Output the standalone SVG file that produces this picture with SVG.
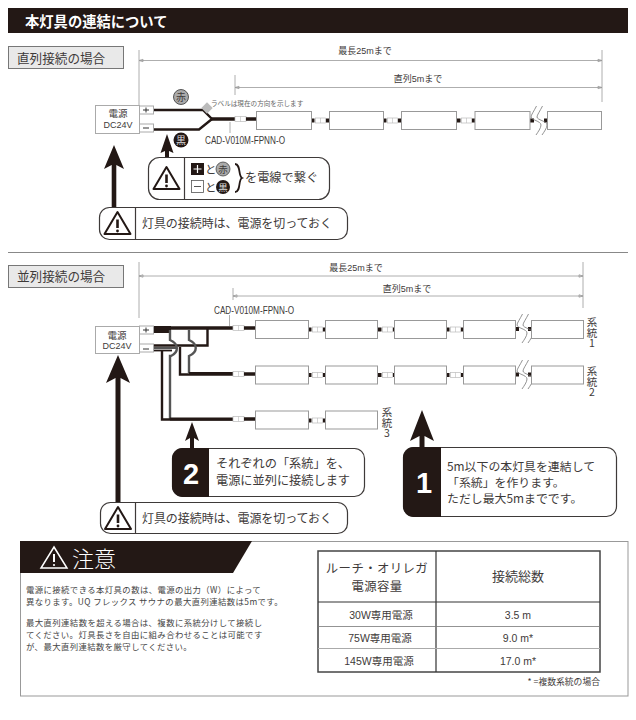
<svg xmlns="http://www.w3.org/2000/svg" xmlns:xlink="http://www.w3.org/1999/xlink" width="636" height="720" viewBox="0 0 636 720">
<style>
text{font-family:"Noto Sans CJK JP","Liberation Sans",sans-serif;fill:#3e3a39}
.lat{font-family:"Liberation Sans","Noto Sans CJK JP",sans-serif}
.dark{fill:#231815}
.tab{fill:#e9e9e9;stroke:#777;stroke-width:1}
.tabt{font-size:12.6px}
.dim{fill:none;stroke:#999;stroke-width:.8}
.dimt{font-size:9px;text-anchor:middle}
.lamp{fill:#fff;stroke:#999;stroke-width:1}
.psu{fill:#fff;stroke:#aaa;stroke-width:1}
.w3{fill:none;stroke:#231815;stroke-width:3.500}
.w2{fill:none;stroke:#231815;stroke-width:2.400}
.g2{fill:none;stroke:#555;stroke-width:2.400}
.box{fill:#fff;stroke:#3e3a39;stroke-width:1.200}
.div{stroke:#3e3a39;stroke-width:1.200}
.bt{font-size:12px}
.cn{fill:#fff;stroke:#bbb;stroke-width:.7}
.brk{fill:none;stroke:#777;stroke-width:.8}
.small{font-size:8.400px;letter-spacing:.4px;fill:#444}
.tc{font-size:10.500px;text-anchor:middle}
.sys{font-size:10.500px;writing-mode:vertical-rl;text-orientation:upright}
</style>
<defs>
<g id="warn"><path d="M0,-12 L13,10 H-13 Z" fill="none" stroke="#231815" stroke-width="2" stroke-linejoin="round"/><path d="M0,-4.500 V4" stroke="#231815" stroke-width="2.600"/><circle cx="0" cy="7" r="1.400" fill="#231815"/></g>
<g id="conn"><rect x="0" y="-2" width="3.500" height="4" class="dark"/><rect x="4.500" y="-2.500" width="10" height="5" class="cn"/><path d="M9.500,-2.500V2.500" stroke="#bbb" stroke-width=".6"/><rect x="15" y="-2" width="3" height="4" class="dark"/></g>
<path id="brk" d="M536.500,106C534,111 531,115 531,117C531,120 541,121 541,125C541,128 538,132 536,135" class="brk"/>
<g id="brkp"><use xlink:href="#brk"/><use xlink:href="#brk" x="6"/></g>
</defs>
<rect width="636" height="720" fill="#fff"/>

<g id="title"><rect x="8" y="8" width="620" height="25" class="dark"/><text x="25" y="27" font-size="14.300" font-weight="700" style="fill:#fff">本灯具の連結について</text></g>

<g id="tab-series"><rect x="8.500" y="46.500" width="115" height="22" class="tab"/><text x="17" y="62.500" class="tabt">直列接続の場合</text></g>

<g id="dims-series">
<path class="dim" d="M139,50V108M139,60.500H602M602,50V102M235,75V95M235,87.500H602M139,60.500l4,-1.200v2.400zM235,87.500l4,-1.200v2.400zM602,60.500l-4,-1.200v2.400zM602,87.500l-4,-1.200v2.400z"/>
<text x="365" y="54" class="dimt lat">最長25mまで</text>
<text x="418" y="82" class="dimt lat">直列5mまで</text>
<text x="211" y="106" font-size="6.600" style="fill:#666">ラベルは現在の方向を示します</text>
<path d="M230,122V133" stroke="#999" stroke-width=".8"/>
<text x="205" y="144" font-size="10" textLength="80" lengthAdjust="spacingAndGlyphs" class="lat">CAD-V010M-FPNN-O</text>
</g>

<g id="connectors">
<g id="wires-series">
<path class="w2" d="M153,110H203L212,119M153,129.500H199L212,119"/>
<path d="M211,119H235" stroke="#231815" stroke-width="3.500"/>
<rect x="203" y="104" width="8" height="8" fill="#bbb" transform="rotate(45 207 108)"/>
<rect x="235" y="116.500" width="11" height="5" class="cn"/><path d="M240.500,116.500V121.500" stroke="#bbb" stroke-width=".6"/>
<path d="M246,119H256" stroke="#231815" stroke-width="3.500"/>
<use xlink:href="#conn" x="311" y="120.500"/><use xlink:href="#conn" x="383" y="120.500"/><use xlink:href="#conn" x="457" y="120.500"/>
<rect x="530" y="118.500" width="4" height="4" class="dark"/><rect x="544" y="118.500" width="3" height="4" class="dark"/>
<use xlink:href="#brkp"/>
</g>
<g id="wires-parallel">
<path d="M153,329.500H171" stroke="#231815" stroke-width="7"/>
<path class="w3" d="M153,328H233"/>
<path class="w2" d="M207.500,329V345.500H153"/>
<path d="M153,348H176" stroke="#555" stroke-width="2"/>
<path d="M153,350.500H172" stroke="#231815" stroke-width="1.800"/>
<path class="g2" d="M170,330V340C179,344 179,352 171,356H170V419"/>
<path class="g2" d="M189,330V340C198,344 198,352 189,356V373"/>
<path class="w2" d="M162,351V419.500H233"/>
<path class="w2" d="M180,347V374.500H233"/>
<path d="M170,419H233" stroke="#231815" stroke-width="3"/><path d="M189,373.500H233" stroke="#231815" stroke-width="3"/>
<path d="M229.500,315V326" stroke="#999" stroke-width=".8"/>
<g id="p-cn"><rect x="233" y="325.500" width="11" height="5" class="cn"/><rect x="233" y="371.500" width="11" height="5" class="cn"/><rect x="233" y="416.500" width="11" height="5" class="cn"/><path d="M238.500,325.500v5M238.500,371.500v5M238.500,416.500v5" stroke="#bbb" stroke-width=".6"/></g>
<path d="M244,328H255M244,374H255M244,419H256" stroke="#231815" stroke-width="3.500"/>
<use xlink:href="#conn" x="308" y="329.500"/><use xlink:href="#conn" x="378" y="329.500"/><use xlink:href="#conn" x="446" y="329.500"/>
<use xlink:href="#conn" x="308" y="375"/><use xlink:href="#conn" x="378" y="375"/><use xlink:href="#conn" x="446" y="375"/>
<use xlink:href="#conn" x="308" y="420.500"/>
<rect x="515" y="327" width="4" height="4" class="dark"/><rect x="528" y="327" width="3" height="4" class="dark"/>
<rect x="515" y="372.500" width="4" height="4" class="dark"/><rect x="528" y="372.500" width="3" height="4" class="dark"/>
<use xlink:href="#brkp" x="-14" y="208"/><use xlink:href="#brkp" x="-14" y="254"/>
</g>
<g id="arrows" class="dark">
<path d="M167,134L173.500,153L169,151V158H165V151L160.500,153Z"/>
<path d="M114,145L124,169L116.300,165V208H111.700V165L104,169Z"/>
<path d="M118,355L130,383L120.500,378V503H115.500V378L106,383Z"/>
<path d="M192,422L199,441L194,438V449H190V438L185,441Z"/>
<path d="M422,410L434,441L424.500,436V448H419.500V436L410,441Z"/>
</g>
</g>

<g id="psu-series"><rect x="95.500" y="105.500" width="44" height="28" class="psu"/><rect x="139.500" y="106" width="14" height="8" class="psu"/><rect x="139.500" y="124" width="14" height="8" class="psu"/>
<text x="118" y="117" font-size="9.500" text-anchor="middle">電源</text><text x="118" y="127.500" font-size="9" text-anchor="middle" class="lat">DC24V</text>
<path d="M143,110H149M146,107.500V112.500M143,128H149" stroke="#333" stroke-width="1"/></g>
<g id="lamps-series"><rect x="256.500" y="111.500" width="55" height="18" class="lamp"/><rect x="329.500" y="111.500" width="54" height="18" class="lamp"/><rect x="401.500" y="111.500" width="55" height="18" class="lamp"/><rect x="475" y="111.500" width="55" height="18" class="lamp"/><rect x="547.500" y="111.500" width="54" height="18" class="lamp"/></g>
<g id="red-mark"><circle cx="181" cy="97" r="7.500" fill="#aaa" stroke="#333" stroke-width=".8"/><text x="181" y="100.500" font-size="10" text-anchor="middle">赤</text></g>
<g id="black-mark"><circle cx="181" cy="140" r="7.500" class="dark"/><text x="181" y="143.500" font-size="10" text-anchor="middle" style="fill:#ddd">黒</text></g>

<g id="warn-wire"><rect x="148.500" y="157.500" width="181" height="42" rx="11" class="box"/><path class="div" d="M184.500,157.500V199.500"/><use xlink:href="#warn" x="166.500" y="179"/>
<rect x="191" y="163" width="13" height="12" class="dark"/><path d="M193.500,169H201.500M197.500,165V173" stroke="#fff" stroke-width="1.200"/>
<rect x="191.500" y="180.500" width="12" height="12" fill="#fff" stroke="#555" stroke-width=".8"/><path d="M194,186.500H201" stroke="#555" stroke-width="1"/>
<text x="205" y="174" font-size="11.500">と</text><text x="205" y="192" font-size="11.500">と</text>
<circle cx="223" cy="169" r="7" fill="#aaa" stroke="#333" stroke-width=".7"/><text x="223" y="172.500" font-size="9.500" text-anchor="middle">赤</text>
<circle cx="223" cy="187" r="7" class="dark"/><text x="223" y="190.500" font-size="9.500" text-anchor="middle" style="fill:#ddd">黒</text>
<path d="M235,164C241,164 238,176 242,178C238,180 241,192 235,192" fill="none" stroke="#231815" stroke-width="1.800"/>
<text x="245" y="182" font-size="12.200">を電線で繋ぐ</text></g>

<g id="warn-power-1"><rect x="99.500" y="207.500" width="248" height="32" rx="10" class="box"/><path class="div" d="M135.500,207.500V239.500"/><use xlink:href="#warn" x="117.500" y="224"/><text x="142" y="228" class="bt" textLength="190" lengthAdjust="spacing">灯具の接続時は、電源を切っておく</text></g>

<path id="sep" d="M8,252.500H628" stroke="#888" stroke-width="1"/>

<g id="tab-parallel"><rect x="8.500" y="265.500" width="115" height="22" class="tab"/><text x="17" y="281" class="tabt">並列接続の場合</text></g>

<g id="dims-parallel">
<path class="dim" d="M139,262V318M139,276H583M583,262V308M233,288V300M233,296H583M139,276l4,-1.200v2.400zM233,296l4,-1.200v2.400zM583,276l-4,-1.200v2.400zM583,296l-4,-1.200v2.400z"/>
<text x="356" y="271" class="dimt lat">最長25mまで</text>
<text x="407" y="292" class="dimt lat">直列5mまで</text>
<text x="214" y="314" font-size="10" textLength="80" lengthAdjust="spacingAndGlyphs" class="lat">CAD-V010M-FPNN-O</text>
</g>

<g id="psu-parallel"><rect x="95.500" y="326.500" width="44" height="27" class="psu"/><rect x="139.500" y="326" width="14" height="8" class="psu"/><rect x="139.500" y="344" width="14" height="8" class="psu"/>
<text x="117" y="338.500" font-size="9.500" text-anchor="middle">電源</text><text x="117" y="348.500" font-size="9" text-anchor="middle" class="lat">DC24V</text>
<path d="M143,330H149M146,327.500V332.500M143,349H149" stroke="#333" stroke-width="1"/></g>

<g id="lamps-sys1"><rect x="255.500" y="320.500" width="53" height="18" class="lamp"/><rect x="325.500" y="320.500" width="52" height="18" class="lamp"/><rect x="394.500" y="320.500" width="52" height="18" class="lamp"/><rect x="463.500" y="320.500" width="52" height="18" class="lamp"/><rect x="531.500" y="320.500" width="52" height="18" class="lamp"/>
<text class="sys" x="592" y="317">系統1</text></g>
<g id="lamps-sys2"><rect x="255.500" y="366" width="53" height="18" class="lamp"/><rect x="325.500" y="366" width="52" height="18" class="lamp"/><rect x="394.500" y="366" width="52" height="18" class="lamp"/><rect x="463.500" y="366" width="52" height="18" class="lamp"/><rect x="531.500" y="366" width="52" height="18" class="lamp"/>
<text class="sys" x="592" y="366">系統2</text></g>
<g id="lamps-sys3"><rect x="255.500" y="411" width="53" height="18" class="lamp"/><rect x="325.500" y="411" width="52" height="18" class="lamp"/>
<text class="sys" x="387" y="407">系統3</text></g>

<g id="step2"><rect x="172.500" y="448.500" width="192" height="48" rx="10" class="box"/><path class="dark" d="M209,448H183A11,11 0 0 0 172,459V486A11,11 0 0 0 183,497H209Z"/><text x="191" y="484" font-size="29" font-weight="700" text-anchor="middle" class="lat" style="fill:#fff">2</text>
<text x="216" y="468" font-size="12.200">それぞれの「系統」を、</text><text x="216" y="485" font-size="12.200">電源に並列に接続します</text></g>

<g id="step1"><rect x="403.500" y="447.500" width="213" height="69" rx="10" class="box"/><path class="dark" d="M441,447H414A11,11 0 0 0 403,458V506A11,11 0 0 0 414,517H441Z"/><text x="424" y="493" font-size="29" font-weight="700" text-anchor="middle" class="lat" style="fill:#fff">1</text>
<text x="447" y="471" font-size="11.900">5m以下の本灯具を連結して</text><text x="447" y="487" font-size="11.900">「系統」を作ります。</text><text x="447" y="503" font-size="11.900">ただし最大5mまでです。</text></g>

<g id="warn-power-2"><rect x="100.500" y="502.500" width="247" height="31" rx="10" class="box"/><path class="div" d="M135.500,502.500V533.500"/><use xlink:href="#warn" x="118" y="519"/><text x="142" y="523" class="bt" textLength="190" lengthAdjust="spacing">灯具の接続時は、電源を切っておく</text></g>

<g id="notice">
<rect x="20.500" y="541.500" width="607.500" height="154.500" fill="none" stroke="#999" stroke-width="1"/>
<path class="dark" d="M20,541H252L233,573H20Z"/>
<path d="M54,547L67,568H41Z" fill="none" stroke="#fff" stroke-width="1.500"/><path d="M54,554V562" stroke="#fff" stroke-width="2"/><circle cx="54" cy="565" r="1.100" fill="#fff"/>
<text x="72" y="567" font-size="22" style="fill:#fff" font-weight="300">注意</text>
<text class="small"><tspan x="26" y="593">電源に接続できる本灯具の数は、電源の出力（W）によって</tspan><tspan x="26" y="605.300">異なります。UQ フレックス サウナの最大直列連結数は5mです。</tspan></text>
<text class="small"><tspan x="26" y="625.500">最大直列連結数を超える場合は、複数に系統分けして接続し</tspan><tspan x="26" y="637.800">てください。灯具長さを自由に組み合わせることは可能です</tspan><tspan x="26" y="650">が、最大直列連結数を厳守してください。</tspan></text>
</g>

<g id="table">
<rect x="318" y="551" width="282" height="121" fill="#fff" stroke="#444" stroke-width="1.500"/>
<path d="M436,551V672M318,602H600" stroke="#333" stroke-width="1.200"/>
<path d="M318,626.500H600" stroke="#777" stroke-width=".8"/><path d="M318,648.500H600" stroke="#aaa" stroke-width="1"/>
<text font-size="12.400" text-anchor="middle"><tspan x="377" y="572.500" letter-spacing=".4">ルーチ・オリレガ</tspan><tspan x="377" y="590.500" letter-spacing=".4">電源容量</tspan></text>
<text x="518" y="581" font-size="13" text-anchor="middle">接続総数</text>
<text class="tc lat" x="381" y="619">30W専用電源</text><text class="tc lat" x="518" y="619">3.5 m</text>
<text class="tc lat" x="380" y="642">75W専用電源</text><text class="tc lat" x="518" y="642">9.0 m*</text>
<text class="tc lat" x="379" y="665">145W専用電源</text><text class="tc lat" x="518" y="665">17.0 m*</text>
<text x="600" y="685" font-size="8.800" text-anchor="end">* =複数系統の場合</text>
</g>
</svg>
